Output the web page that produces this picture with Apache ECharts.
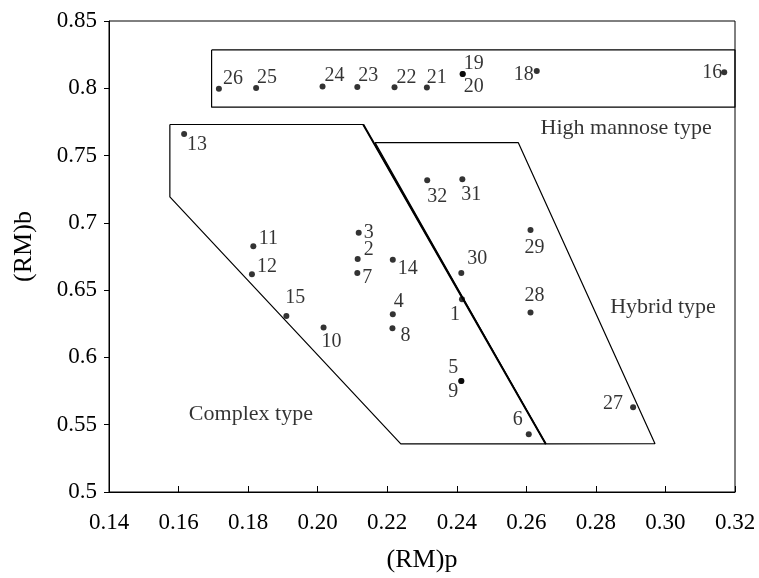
<!DOCTYPE html>
<html>

<head>
    <meta charset="utf-8" />
    <title>(RM)p vs (RM)b</title>
    <script src="https://cdn.jsdelivr.net/npm/echarts@6/dist/echarts.min.js"></script>
</head>

<body style="margin:0">
    <div id="main" style="width: 759px;height:578px;"></div>
    <script type="text/javascript">
        // sample numbers and their (RM)p / (RM)b values
        let pointIds = ['1', '2', '3', '4', '5', '6', '7', '8', '9', '10', '11', '12', '13', '14', '15', '16',
            '18', '19', '20', '21', '22', '23', '24', '25', '26', '27', '28', '29', '30', '31', '32'];
        let rmP = [0.2415, 0.2115, 0.2118, 0.2216, 0.2413, 0.2607, 0.2114, 0.2215, 0.2413, 0.2017, 0.1815, 0.1811,
            0.1616, 0.2216, 0.1910, 0.3169, 0.2630, 0.2417, 0.2417, 0.2314, 0.2221, 0.2114, 0.2014, 0.1823,
            0.1716, 0.2907, 0.2612, 0.2612, 0.2413, 0.2416, 0.2315];
        let rmB = [0.6432, 0.6731, 0.6926, 0.6320, 0.5824, 0.5429, 0.6627, 0.6217, 0.5824, 0.6222, 0.6827, 0.6619,
            0.7660, 0.6726, 0.6308, 0.8120, 0.8129, 0.8107, 0.8107, 0.8006, 0.8008, 0.8010, 0.8013, 0.8003,
            0.7996, 0.5629, 0.6333, 0.6946, 0.6627, 0.7324, 0.7316];

        // region outlines (data units)
        let mannoseX = [0.1695, 0.32, 0.32, 0.1695, 0.1695];
        let mannoseY = [0.8285, 0.8285, 0.786, 0.786, 0.8285];
        let complexX = [0.1575, 0.2131, 0.2656, 0.2239, 0.1575, 0.1575];
        let complexY = [0.7731, 0.7731, 0.5357, 0.5357, 0.7193, 0.7731];
        let hybridX = [0.2165, 0.2577, 0.2970, 0.2656, 0.2165];
        let hybridY = [0.7596, 0.7596, 0.5359, 0.5357, 0.7596];

        let regionNames = ['High mannose type', 'Hybrid type', 'Complex type'];
        let regionX = [0.2887, 0.2993, 0.1808];
        let regionY = [0.770, 0.6373, 0.558];

        // where each number sits around its dot (px)
        let labelOffsets = [[-7, 15], [11, -9], [10, 0], [6, -13], [-8, -13], [-11, -15], [10, 5], [13, 8], [-8, 11],
        [8, 14], [15, -7], [15, -7], [13, 11], [15, 9], [9, -18], [-12, 1], [-13, 4], [11, -10], [11, 13],
        [10, -10], [12, -9], [11, -11], [12, -11], [11, -10], [14, -10], [-20, -4], [4, -17], [4, 18],
        [16, -14], [9, 15], [10, 16]];

        let font = 'Liberation Serif';

        function pairs(xs, ys) {
            return xs.map((x, i) => [x, ys[i]]);
        }

        function outline(xs, ys, w) {
            return {
                type: 'line',
                data: pairs(xs, ys),
                symbol: 'none',
                silent: true,
                lineStyle: { color: '#000', width: w || 1.2 }
            };
        }

        let myChart = echarts.init(document.getElementById('main'));

        let option = {
            animation: false,
            backgroundColor: '#fff',
            grid: {
                left: 109, right: 24, top: 21, bottom: 84,
                show: true, borderColor: '#000', borderWidth: 1
            },
            xAxis: {
                type: 'value',
                min: 0.14, max: 0.32, interval: 0.02,
                name: '(RM)p',
                nameLocation: 'middle',
                nameGap: 55,
                nameTextStyle: { fontFamily: font, fontSize: 26, color: '#000' },
                axisLine: { lineStyle: { color: '#000', width: 1 } },
                axisTick: { inside: true, length: 6, lineStyle: { color: '#000' } },
                splitLine: { show: false },
                axisLabel: {
                    margin: 19, fontFamily: font, fontSize: 23, color: '#000',
                    formatter: v => v.toFixed(2)
                }
            },
            yAxis: {
                type: 'value',
                min: 0.5, max: 0.85, interval: 0.05,
                name: '(RM)b',
                nameLocation: 'middle',
                nameGap: 72,
                nameTextStyle: { fontFamily: font, fontSize: 26, color: '#000', padding: [0, 0, 0, 20] },
                axisLine: { lineStyle: { color: '#000', width: 1 } },
                axisTick: { length: 5, lineStyle: { color: '#000' } },
                splitLine: { show: false },
                axisLabel: {
                    margin: 12, fontFamily: font, fontSize: 23, color: '#000',
                    formatter: v => String(parseFloat(v.toFixed(2)))
                }
            },
            series: [
                outline(mannoseX, mannoseY),
                outline(complexX, complexY),
                outline(hybridX, hybridY),
                // shared boundary between complex and hybrid is drawn heavier
                outline(complexX.slice(1, 3), complexY.slice(1, 3), 2),
                {
                    type: 'scatter',
                    symbolSize: 6,
                    itemStyle: { color: '#000' },
                    data: pointIds.map((id, i) => ({
                        name: id,
                        value: [rmP[i], rmB[i]],
                        label: { offset: labelOffsets[i] }
                    })),
                    label: {
                        show: true,
                        position: 'inside',
                        align: 'center',
                        verticalAlign: 'middle',
                        formatter: p => p.name,
                        fontFamily: font,
                        fontSize: 20,
                        color: '#000'
                    }
                },
                {
                    type: 'scatter',
                    symbolSize: 0,
                    silent: true,
                    data: regionNames.map((n, i) => ({ name: n, value: [regionX[i], regionY[i]] })),
                    label: {
                        show: true,
                        position: 'inside',
                        align: 'center',
                        verticalAlign: 'middle',
                        formatter: p => p.name,
                        fontFamily: font,
                        fontSize: 22,
                        color: '#000'
                    }
                }
            ]
        };

        myChart.setOption(option);
    </script>
</body>

</html>
